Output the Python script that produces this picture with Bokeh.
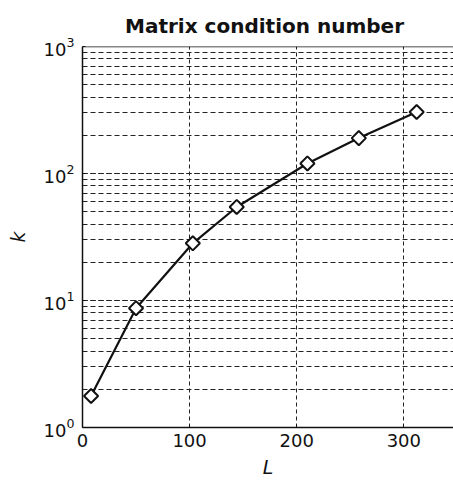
import math
from bokeh.plotting import figure
from bokeh.models import Range1d, Span, FixedTicker, LogTicker
from bokeh.embed import file_html
from bokeh.resources import INLINE

# Data
L_values = [8, 50, 103, 144, 210, 258, 312]
k_values = [1.77, 8.7, 28.2, 54.5, 120, 190, 305]
x_ticks = [0, 100, 200, 300]

FONT = "DejaVu Sans"

p = figure(width=453, height=482, y_axis_type="log",
           x_range=Range1d(0, 346.4), y_range=Range1d(1, 1000),
           output_backend="svg", toolbar_location=None,
           min_border_left=82, min_border_right=0,
           min_border_top=46, min_border_bottom=55)

p.title.text = "Matrix  condition number"
p.title.text_font = FONT
p.title.text_font_size = "20px"
p.title.text_font_style = "bold"
p.title.align = "center"
p.title.text_color = "#111111"
p.title.standoff = 18

p.outline_line_color = None
p.background_fill_color = "white"
p.border_fill_color = "white"

# grids
p.xgrid.ticker = FixedTicker(ticks=x_ticks)
p.xgrid.grid_line_color = "#222222"
p.xgrid.grid_line_dash = "4 3"
p.xgrid.grid_line_width = 1
p.ygrid.grid_line_color = "#222222"
p.ygrid.grid_line_dash = "5 3"
p.ygrid.grid_line_width = 1
p.ygrid.minor_grid_line_color = "#222222"
p.ygrid.minor_grid_line_dash = "5 3"
p.ygrid.minor_grid_line_width = 1

# axes
p.xaxis.ticker = FixedTicker(ticks=x_ticks)
p.yaxis.ticker = LogTicker(num_minor_ticks=10)
for ax in (p.xaxis, p.yaxis):
    ax.axis_line_color = "#111111"
    ax.axis_line_width = 1.5
    ax.major_tick_in = 3
    ax.major_tick_out = 0
    ax.minor_tick_in = 0
    ax.minor_tick_out = 0
    ax.major_tick_line_color = "#111111"
    ax.major_label_text_font = FONT
    ax.major_label_text_font_size = "18px"
    ax.major_label_text_color = "#111111"
    ax.axis_label_text_font = FONT
    ax.axis_label_text_font_size = "19px"
    ax.axis_label_text_font_style = "italic"
    ax.axis_label_text_color = "#111111"

p.xaxis.axis_label = "L"
p.yaxis.axis_label = "k"
p.xaxis.major_label_standoff = 6
p.xaxis.axis_label_standoff = 6
p.yaxis.major_label_standoff = 8
p.yaxis.axis_label_standoff = 12

# top border
p.add_layout(Span(location=1000, dimension="width", line_color="#111111", line_width=1.5))

p.line(L_values, k_values, line_color="#111111", line_width=2.2)
p.scatter(L_values, k_values, marker="square", angle=math.pi / 4, size=10,
          line_color="#111111", line_width=2, fill_color="white")

open("out.html", "w").write(file_html(p, INLINE))
